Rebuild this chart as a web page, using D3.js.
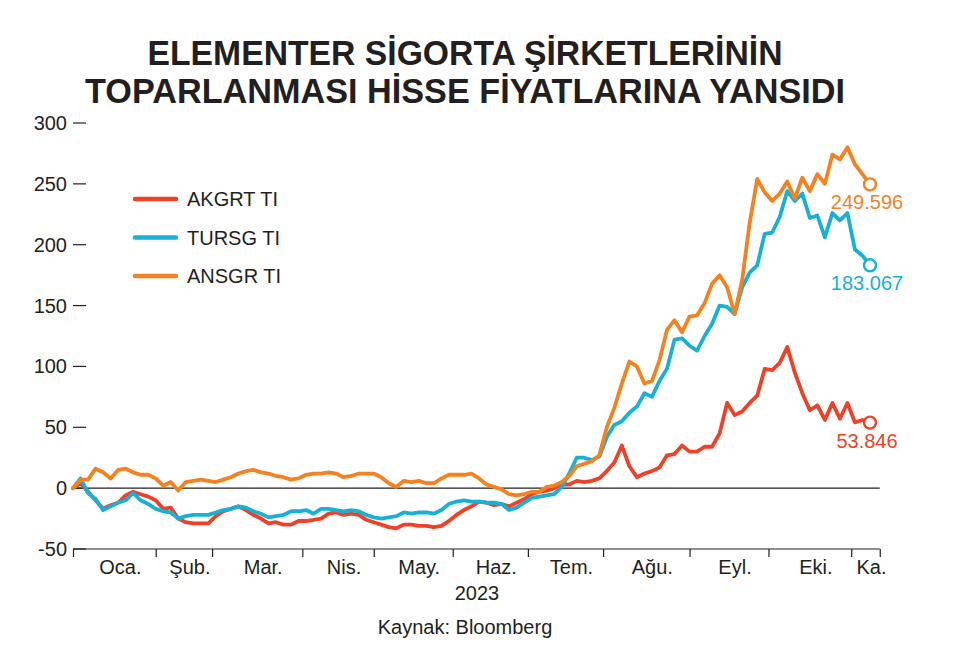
<!DOCTYPE html>
<html>
<head>
<meta charset="utf-8">
<script src="https://cdn.jsdelivr.net/npm/d3@7"></script>
<style>
  body { margin: 0; background: #fff; }
  svg { display: block; font-family: "Liberation Sans", Arial, sans-serif; }
</style>
</head>
<body>
<svg id="chart" width="954" height="660"></svg>
<script>
// Title lines
const titleLines = ['ELEMENTER SİGORTA ŞİRKETLERİNİN', 'TOPARLANMASI HİSSE FİYATLARINA YANSIDI'];

// Month labels and the trading-day index where each month starts
const monthLabels = ['Oca.', 'Şub.', 'Mar.', 'Nis.', 'May.', 'Haz.', 'Tem.', 'Ağu.', 'Eyl.', 'Eki.', 'Ka.'];
const monthStarts = [0, 22, 37, 61, 80, 101, 121, 141, 164, 185, 207];
const axisEndDay = 214.6;
const lastDay = 212;
const sampleStep = 2; // one value every 2 trading days

const yTicks = [300, 250, 200, 150, 100, 50, 0, -50];

// % change since start of 2023, one value per 2 trading days
const akgrt = [0, 4, -3, -10, -17, -14, -12, -6, -3, -5, -7, -10, -17, -16, -25, -28, -29, -29, -29, -23,
  -19, -17, -15, -18, -22, -25, -29, -28, -30, -30, -27, -27, -26, -25, -21, -20, -22, -21, -22, -26,
  -28, -30, -32, -33, -30, -30, -31, -31, -32, -31, -27, -22, -18, -15, -11, -12, -14, -13, -15, -12,
  -9, -5, -3, -2, 0, 3, 3, 6, 5, 6, 8, 14, 21, 35, 18, 9, 12, 14, 17, 27,
  28, 35, 30, 30, 34, 34, 45, 70, 60, 63, 70, 76, 98, 97, 103, 116, 95, 78, 64, 68,
  56, 70, 57, 70, 54, 56, 53.846];
const tursg = [0, 8, -4, -9, -18, -15, -12, -10, -4, -10, -13, -17, -19, -20, -25, -23, -22, -22, -22, -20,
  -18, -17, -15, -16, -19, -21, -24, -23, -22, -19, -19, -18, -21, -17, -17, -18, -19, -18, -19, -22,
  -24, -25, -24, -23, -20, -21, -20, -20, -21, -18, -13, -11, -10, -11, -11, -12, -12, -13, -18, -16,
  -12, -8, -7, -6, -5, 1, 12, 25, 25, 23, 26, 42, 52, 55, 62, 67, 78, 75, 88, 98,
  122, 123, 117, 113, 125, 135, 150, 149, 143, 165, 177, 183, 209, 210, 223, 244, 236, 242, 222, 224,
  206, 226, 220, 226, 196, 191, 183.067];
const ansgr = [0, 7, 7, 16, 13, 8, 15, 16, 13, 11, 11, 8, 2, 5, -2, 5, 6, 7, 6, 5,
  7, 9, 12, 14, 15, 13, 12, 10, 9, 7, 8, 11, 12, 12, 13, 12, 9, 10, 12, 12,
  12, 9, 4, 1, 6, 5, 6, 4, 4, 8, 11, 11, 11, 12, 8, 3, 1, -1, -5, -6,
  -5, -3, -3, 1, 2, 5, 10, 18, 20, 22, 27, 50, 66, 86, 104, 100, 86, 88, 105, 130,
  138, 128, 141, 142, 152, 168, 175, 165, 143, 171, 218, 254, 243, 236, 242, 252, 238, 255, 244, 258,
  250, 274, 270, 280, 266, 258, 249.596];

const series = [
  { name: 'AKGRT TI', values: akgrt, color: '#ee4127', label: '53.846' },
  { name: 'TURSG TI', values: tursg, color: '#17b1d6', label: '183.067' },
  { name: 'ANSGR TI', values: ansgr, color: '#f5821f', label: '249.596' },
];

const svg = d3.select('#chart');
const ink = '#231f20';

const x = d3.scaleLinear().domain([0, lastDay]).range([73, 870]);
const y = d3.scaleLinear().domain([-50, 300]).range([549, 123]);

// title
svg.append('g')
    .selectAll('text')
    .data(titleLines)
    .join('text')
    .attr('x', 465)
    .attr('y', (d, i) => 65 + i * 38)
    .attr('text-anchor', 'middle')
    .attr('textLength', (d, i) => (i == 0 ? 635 : 760))
    .attr('lengthAdjust', 'spacingAndGlyphs')
    .style('font-family', '"Liberation Sans", Arial, sans-serif')
    .style('font-weight', 'bold')
    .style('font-size', '35px')
    .attr('fill', ink)
    .text((d) => d);

// y axis labels with small dashes
const yg = svg.append('g').selectAll('g').data(yTicks).join('g')
    .attr('transform', (d) => 'translate(0,' + y(d) + ')');
yg.append('text')
    .attr('x', 67)
    .attr('dy', '0.35em')
    .attr('text-anchor', 'end')
    .style('font-size', '20px')
    .attr('fill', ink)
    .text((d) => d);
yg.append('line')
    .attr('x1', 73)
    .attr('x2', 86)
    .attr('stroke', ink)
    .attr('stroke-width', 1.2);

// zero line
svg.append('line')
    .attr('x1', x(0))
    .attr('x2', x(axisEndDay))
    .attr('y1', y(0))
    .attr('y2', y(0))
    .attr('stroke', ink)
    .attr('stroke-width', 1.2);

// x axis with month boundaries
const xAxis = d3.axisBottom(x)
    .tickValues(monthStarts.concat([axisEndDay]))
    .tickSize(8)
    .tickSizeOuter(0)
    .tickFormat('');
svg.append('g')
    .attr('transform', 'translate(0,' + y(-50) + ')')
    .call(xAxis)
    .call((g) => g.select('.domain').attr('d', 'M' + x(0) + ',0H' + x(axisEndDay)).attr('stroke', ink).attr('stroke-width', 1.2))
    .call((g) => g.selectAll('.tick line').attr('stroke', ink).attr('stroke-width', 1.2));

const monthEnds = monthStarts.slice(1).concat([axisEndDay]);
svg.append('g')
    .selectAll('text')
    .data(monthLabels)
    .join('text')
    .attr('x', (d, i) => (x(monthStarts[i]) + x(monthEnds[i])) / 2 + 6)
    .attr('y', 574)
    .attr('text-anchor', 'middle')
    .style('font-size', '20px')
    .attr('fill', ink)
    .text((d) => d);

svg.append('text')
    .attr('x', 477)
    .attr('y', 600)
    .attr('text-anchor', 'middle')
    .style('font-size', '20px')
    .attr('fill', ink)
    .text('2023');

svg.append('text')
    .attr('x', 465)
    .attr('y', 634)
    .attr('text-anchor', 'middle')
    .style('font-size', '20px')
    .attr('fill', ink)
    .text('Kaynak: Bloomberg');

// lines
const line = d3.line()
    .x((d, i) => x(i * sampleStep))
    .y((d) => y(d))
    .curve(d3.curveLinear);

svg.append('g')
    .selectAll('path')
    .data(series)
    .join('path')
    .attr('d', (d) => line(d.values))
    .attr('fill', 'none')
    .attr('stroke', (d) => d.color)
    .attr('stroke-width', 3.8)
    .attr('stroke-linejoin', 'round')
    .attr('stroke-linecap', 'round');

// end markers and labels
const ends = svg.append('g').selectAll('g').data(series).join('g')
    .attr('transform', (d) => 'translate(' + x((d.values.length - 1) * sampleStep) + ',' + y(d.values[d.values.length - 1]) + ')');
ends.append('circle')
    .attr('r', 6)
    .attr('fill', '#fff')
    .attr('stroke', (d) => d.color)
    .attr('stroke-width', 2.4);
ends.append('text')
    .attr('x', -3)
    .attr('y', 25)
    .attr('text-anchor', 'middle')
    .style('font-size', '20px')
    .attr('fill', (d) => d.color)
    .text((d) => d.label);

// legend
const lg = svg.append('g').selectAll('g').data(series).join('g')
    .attr('transform', (d, i) => 'translate(135,' + (199 + i * 38.5) + ')');
lg.append('line')
    .attr('x1', 0)
    .attr('x2', 41)
    .attr('stroke', (d) => d.color)
    .attr('stroke-width', 4.5)
    .attr('stroke-linecap', 'round');
lg.append('text')
    .attr('x', 52)
    .attr('dy', '0.35em')
    .style('font-size', '20px')
    .attr('fill', ink)
    .text((d) => d.name);
</script>
</body>
</html>
